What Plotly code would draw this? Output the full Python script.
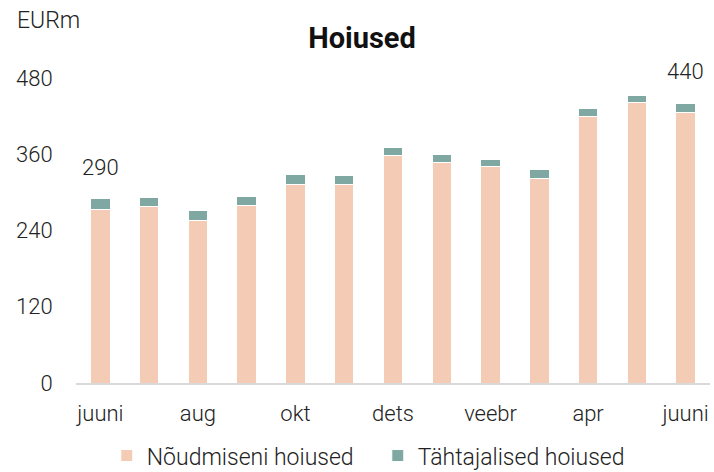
import plotly.graph_objects as go

months = ["juuni", "juuli", "aug", "sept", "okt", "nov", "dets", "jaan", "veebr", "märts", "apr", "mai", "juuni"]
noudmiseni = [273, 277, 256, 279, 313, 312, 358, 347, 340, 322, 420, 441, 425]
tahtajalised = [17, 15, 15, 15, 15, 15, 13, 12, 12, 14, 12, 12, 15]
y_ticks = [0, 120, 240, 360, 480]
labelled = {0: "290", 12: "440"}

FONT = "Roboto"
TXT = "#222222"
FS = 22
x = list(range(len(months)))

fig = go.Figure()
fig.add_bar(x=x, y=noudmiseni, name="Nõudmiseni hoiused",
            marker=dict(color="#F4CBB5", line=dict(color="white", width=1)))
fig.add_bar(x=x, y=tahtajalised, name="Tähtajalised hoiused",
            marker=dict(color="#7FA8A2", line=dict(color="white", width=1)))

totals = [a + b for a, b in zip(noudmiseni, tahtajalised)]
for i, t in labelled.items():
    fig.add_annotation(x=i, y=totals[i], text=t, showarrow=False, yanchor="bottom",
                       yshift=17, font=dict(family=FONT, size=FS, color=TXT, weight=300))

fig.add_annotation(xref="paper", yref="paper", x=-0.097, y=1.19, xanchor="left", yanchor="middle",
                   text="EURm", showarrow=False, font=dict(family=FONT, size=23, color=TXT, weight=300))

fig.update_layout(
    width=714, height=472,
    barmode="stack", bargap=0.6,
    paper_bgcolor="white", plot_bgcolor="white",
    margin=dict(l=76, r=4, t=78, b=89, autoexpand=False),
    title=dict(text="<b>Hoiused</b>", x=0.507, xanchor="center", y=0.92, yanchor="middle",
               font=dict(family=FONT, size=29, color="#111111")),
    font=dict(family=FONT, size=FS, color=TXT, weight=300),
    showlegend=True,
    legend=dict(orientation="h", x=0.476, xanchor="center", y=-0.238, yanchor="middle",
                font=dict(family=FONT, size=23, color=TXT, weight=300),
                itemwidth=30, entrywidth=226, traceorder="normal"),
    xaxis=dict(range=[-0.5, 12.5], tickvals=x[::2], ticktext=months[::2],
               showgrid=False, zeroline=False, showline=True, linecolor="#D9D9D9", linewidth=1.5,
               ticks="outside", ticklen=10, tickcolor="rgba(0,0,0,0)", automargin=False,
               tickfont=dict(family=FONT, size=FS, color=TXT, weight=300)),
    yaxis=dict(range=[0, 480], tickvals=y_ticks, showgrid=False, zeroline=False, showline=False,
               ticks="outside", ticklen=18, tickcolor="rgba(0,0,0,0)", automargin=False,
               tickfont=dict(family=FONT, size=FS, color=TXT, weight=300)),
)

fig.write_html("out.html", config={"displayModeBar": False},
               post_script="document.body.style.margin='0';document.body.style.padding='0';")
